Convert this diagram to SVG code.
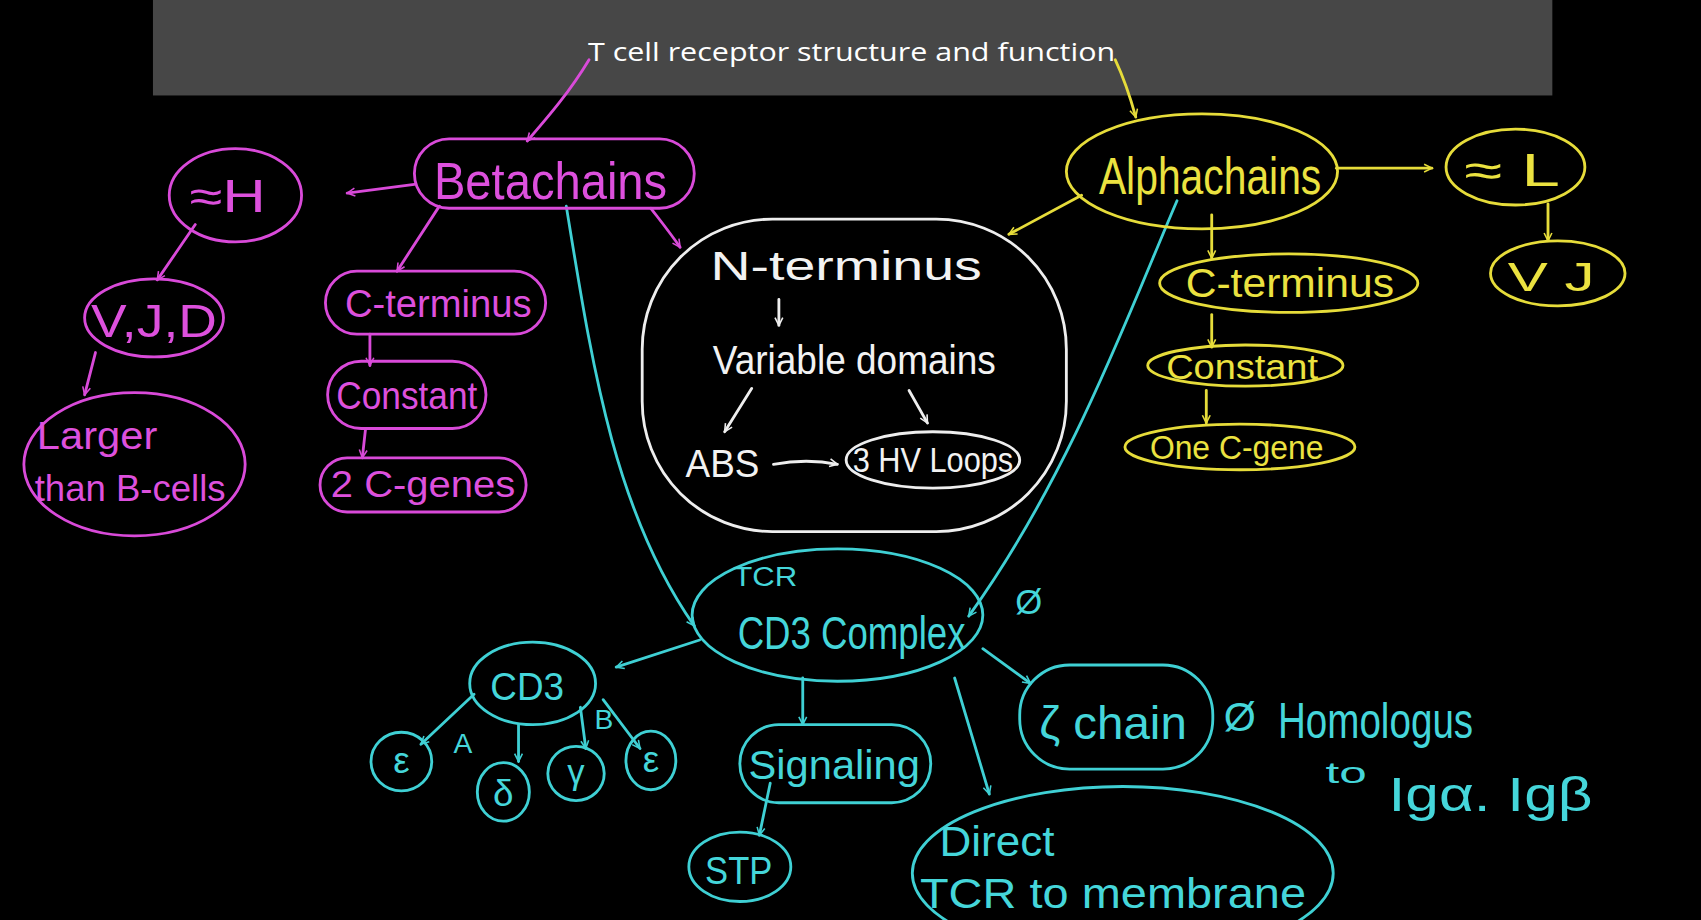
<svg xmlns="http://www.w3.org/2000/svg" width="1701" height="920" viewBox="0 0 1701 920">
<style>
.bg{fill:#000}
.m{stroke:#d94ad9;fill:none;stroke-width:2.6;stroke-linecap:round;stroke-linejoin:round}
.y{stroke:#e6dc3a;fill:none;stroke-width:2.6;stroke-linecap:round;stroke-linejoin:round}
.c{stroke:#3fd0d4;fill:none;stroke-width:2.6;stroke-linecap:round;stroke-linejoin:round}
.w{stroke:#eeeeee;fill:none;stroke-width:2.6;stroke-linecap:round;stroke-linejoin:round}
text{font-family:"Liberation Sans","DejaVu Sans",sans-serif;font-weight:normal}
.tm{fill:#dd50dd}
.ty{fill:#ebe240}
.tc{fill:#45d6da}
.tw{fill:#f2f2f2}
.title{font-family:"Open Sans","Noto Sans",sans-serif;fill:#ffffff;font-size:23px}
</style>
<defs>
<marker id="am" viewBox="0 0 10 10" refX="9" refY="5" markerWidth="9" markerHeight="9" markerUnits="userSpaceOnUse" orient="auto"><path d="M1,1 L9,5 L1,9" fill="none" stroke="#d94ad9" stroke-width="1.6"/></marker>
<marker id="ay" viewBox="0 0 10 10" refX="9" refY="5" markerWidth="9" markerHeight="9" markerUnits="userSpaceOnUse" orient="auto"><path d="M1,1 L9,5 L1,9" fill="none" stroke="#e6dc3a" stroke-width="1.6"/></marker>
<marker id="ac" viewBox="0 0 10 10" refX="9" refY="5" markerWidth="9" markerHeight="9" markerUnits="userSpaceOnUse" orient="auto"><path d="M1,1 L9,5 L1,9" fill="none" stroke="#3fd0d4" stroke-width="1.6"/></marker>
<marker id="aw" viewBox="0 0 10 10" refX="9" refY="5" markerWidth="9" markerHeight="9" markerUnits="userSpaceOnUse" orient="auto"><path d="M1,1 L9,5 L1,9" fill="none" stroke="#eeeeee" stroke-width="1.6"/></marker>
</defs>
<rect class="bg" x="0" y="0" width="1701" height="920"/>
<g transform="scale(1.0848)">
<g id="title">
<rect x="141" y="0" width="1290" height="88" fill="#474747"/>
<text class="title" x="785" y="56" text-anchor="middle" textLength="486" lengthAdjust="spacingAndGlyphs">T cell receptor structure and function</text>
</g>

<g id="connectors">
<path class="m" d="M543,55 C525,85 505,108 486,130" marker-end="url(#am)"/>
<path class="m" d="M382,170 L320,178" marker-end="url(#am)"/>
<path class="m" d="M180,207 L145,258" marker-end="url(#am)"/>
<path class="m" d="M88,325 L78,364" marker-end="url(#am)"/>
<path class="m" d="M405,190 L366,250" marker-end="url(#am)"/>
<path class="m" d="M341,308 L341,337" marker-end="url(#am)"/>
<path class="m" d="M337,395 L334,422" marker-end="url(#am)"/>
<path class="m" d="M600,192 C610,205 618,215 627,228" marker-end="url(#am)"/>
<path class="y" d="M1028,55 C1036,72 1042,90 1047,108" marker-end="url(#ay)"/>
<path class="y" d="M997,180 L930,216" marker-end="url(#ay)"/>
<path class="y" d="M1232,155 L1320,155" marker-end="url(#ay)"/>
<path class="y" d="M1427,188 L1427,222" marker-end="url(#ay)"/>
<path class="y" d="M1117,198 L1117,238" marker-end="url(#ay)"/>
<path class="y" d="M1117,290 L1117,320" marker-end="url(#ay)"/>
<path class="y" d="M1112,360 L1112,390" marker-end="url(#ay)"/>
<path class="w" d="M718,276 L718,300" marker-end="url(#aw)"/>
<path class="w" d="M693,358 L668,398" marker-end="url(#aw)"/>
<path class="w" d="M838,360 L855,390" marker-end="url(#aw)"/>
<path class="w" d="M713,428 C735,424 752,424 772,428" marker-end="url(#aw)"/>
<path class="c" d="M522,190 C545,330 565,470 640,577" marker-end="url(#ac)"/>
<path class="c" d="M1085,185 C1040,290 985,440 893,568" marker-end="url(#ac)"/>
<path class="c" d="M645,590 L568,615" marker-end="url(#ac)"/>
<path class="c" d="M437,640 L388,686" marker-end="url(#ac)"/>
<path class="c" d="M478,668 L478,702" marker-end="url(#ac)"/>
<path class="c" d="M535,652 L540,690" marker-end="url(#ac)"/>
<path class="c" d="M556,645 L590,690" marker-end="url(#ac)"/>
<path class="c" d="M740,625 L740,668" marker-end="url(#ac)"/>
<path class="c" d="M710,722 L700,770" marker-end="url(#ac)"/>
<path class="c" d="M880,625 L912,732" marker-end="url(#ac)"/>
<path class="c" d="M906,598 L950,630" marker-end="url(#ac)"/>
</g>

<g id="betachains"><rect class="m" x="382" y="128" width="258" height="64" rx="32"/><text class="tm" x="400" y="183" font-size="48" textLength="215" lengthAdjust="spacingAndGlyphs">Betachains</text></g>
<g id="approxH"><ellipse class="m" cx="217" cy="180" rx="61" ry="43"/><text class="tm" x="175" y="195" font-size="42" textLength="70" lengthAdjust="spacingAndGlyphs">≈H</text></g>
<g id="vjd"><ellipse class="m" cx="142" cy="293" rx="64" ry="36"/><text class="tm" x="84" y="311" font-size="42" textLength="116" lengthAdjust="spacingAndGlyphs">V,J,D</text></g>
<g id="larger"><ellipse class="m" cx="124" cy="428" rx="102" ry="66"/><text class="tm" x="34" y="414" font-size="36" textLength="111" lengthAdjust="spacingAndGlyphs">Larger</text><text class="tm" x="32" y="462" font-size="34" textLength="176" lengthAdjust="spacingAndGlyphs">than B-cells</text></g>
<g id="beta-cterminus"><rect class="m" x="300" y="250" width="203" height="58" rx="29"/><text class="tm" x="318" y="292" font-size="36" textLength="172" lengthAdjust="spacingAndGlyphs">C-terminus</text></g>
<g id="beta-constant"><rect class="m" x="302" y="333" width="146" height="62" rx="31"/><text class="tm" x="310" y="377" font-size="36" textLength="130" lengthAdjust="spacingAndGlyphs">Constant</text></g>
<g id="two-cgenes"><rect class="m" x="295" y="422" width="190" height="50" rx="25"/><text class="tm" x="305" y="458" font-size="34" textLength="170" lengthAdjust="spacingAndGlyphs">2 C-genes</text></g>

<g id="nterminus-box">
<rect class="w" x="592" y="202" width="391" height="288" rx="120"/>
<text class="tw" x="655" y="258" font-size="38" textLength="250" lengthAdjust="spacingAndGlyphs">N-terminus</text>
<text class="tw" x="657" y="345" font-size="38" textLength="261" lengthAdjust="spacingAndGlyphs">Variable domains</text>
<text class="tw" x="632" y="440" font-size="36" textLength="68" lengthAdjust="spacingAndGlyphs">ABS</text>
</g>
<g id="hvloops"><ellipse class="w" cx="860" cy="424" rx="80" ry="26"/><text class="tw" x="786" y="435" font-size="32" textLength="148" lengthAdjust="spacingAndGlyphs">3 HV Loops</text></g>

<g id="alphachains"><ellipse class="y" cx="1108" cy="158" rx="125" ry="53"/><text class="ty" x="1013" y="179" font-size="48" textLength="205" lengthAdjust="spacingAndGlyphs">Alphachains</text></g>
<g id="approxL"><ellipse class="y" cx="1397" cy="154" rx="64" ry="35"/><text class="ty" x="1350" y="171" font-size="42" textLength="88" lengthAdjust="spacingAndGlyphs">≈ L</text></g>
<g id="vj"><ellipse class="y" cx="1436" cy="252" rx="62" ry="30"/><text class="ty" x="1390" y="268" font-size="38" textLength="80" lengthAdjust="spacingAndGlyphs">V J</text></g>
<g id="alpha-cterminus"><ellipse class="y" cx="1188" cy="261" rx="119" ry="27"/><text class="ty" x="1093" y="274" font-size="38" textLength="192" lengthAdjust="spacingAndGlyphs">C-terminus</text></g>
<g id="alpha-constant"><ellipse class="y" cx="1148" cy="337" rx="90" ry="19"/><text class="ty" x="1075" y="349" font-size="32" textLength="140" lengthAdjust="spacingAndGlyphs">Constant</text></g>
<g id="one-cgene"><ellipse class="y" cx="1143" cy="412" rx="106" ry="21"/><text class="ty" x="1060" y="423" font-size="30" textLength="160" lengthAdjust="spacingAndGlyphs">One C-gene</text></g>

<g id="cd3complex"><ellipse class="c" cx="772" cy="567" rx="134" ry="61"/><text class="tc" x="676" y="540" font-size="26" textLength="59" lengthAdjust="spacingAndGlyphs">TCR</text><text class="tc" x="680" y="598" font-size="42" textLength="210" lengthAdjust="spacingAndGlyphs">CD3 Complex</text></g>
<g id="cd3"><ellipse class="c" cx="491" cy="630" rx="58" ry="38"/><text class="tc" x="452" y="645" font-size="36" textLength="68" lengthAdjust="spacingAndGlyphs">CD3</text></g>
<g id="epsilon1"><ellipse class="c" cx="370" cy="702" rx="28" ry="27"/><text class="tc" x="370" y="713" font-size="34" text-anchor="middle">ε</text></g>
<g id="delta"><ellipse class="c" cx="464" cy="730" rx="24" ry="27"/><text class="tc" x="464" y="743" font-size="34" text-anchor="middle">δ</text></g>
<g id="gamma"><ellipse class="c" cx="531" cy="713" rx="26" ry="25"/><text class="tc" x="531" y="723" font-size="32" text-anchor="middle">γ</text></g>
<g id="epsilon2"><ellipse class="c" cx="600" cy="701" rx="23" ry="27"/><text class="tc" x="600" y="712" font-size="34" text-anchor="middle">ε</text></g>
<text class="tc" x="418" y="694" font-size="26">A</text>
<text class="tc" x="548" y="672" font-size="26">B</text>
<g id="signaling"><rect class="c" x="682" y="668" width="176" height="72" rx="36"/><text class="tc" x="690" y="718" font-size="38" textLength="158" lengthAdjust="spacingAndGlyphs">Signaling</text></g>
<g id="stp"><ellipse class="c" cx="682" cy="799" rx="47" ry="32"/><text class="tc" x="650" y="815" font-size="36" textLength="62" lengthAdjust="spacingAndGlyphs">STP</text></g>
<g id="zeta-chain"><rect class="c" x="940" y="613" width="178" height="96" rx="46"/><text class="tc" x="958" y="681" font-size="42" textLength="136" lengthAdjust="spacingAndGlyphs">ζ chain</text></g>
<g id="direct"><ellipse class="c" cx="1035" cy="805" rx="194" ry="80"/><text class="tc" x="866" y="789" font-size="40" textLength="106" lengthAdjust="spacingAndGlyphs">Direct</text><text class="tc" x="848" y="837" font-size="40" textLength="356" lengthAdjust="spacingAndGlyphs">TCR to membrane</text></g>
<g id="homologus">
<text class="tc" x="936" y="566" font-size="32">Ø</text>
<text class="tc" x="1128" y="674" font-size="38">Ø</text>
<text class="tc" x="1178" y="680" font-size="46" textLength="180" lengthAdjust="spacingAndGlyphs">Homologus</text>
<text class="tc" x="1222" y="722" font-size="28" textLength="38" lengthAdjust="spacingAndGlyphs">to</text>
<text class="tc" x="1280" y="748" font-size="44" textLength="188" lengthAdjust="spacingAndGlyphs">Igα. Igβ</text>
</g>
</g>
</svg>
